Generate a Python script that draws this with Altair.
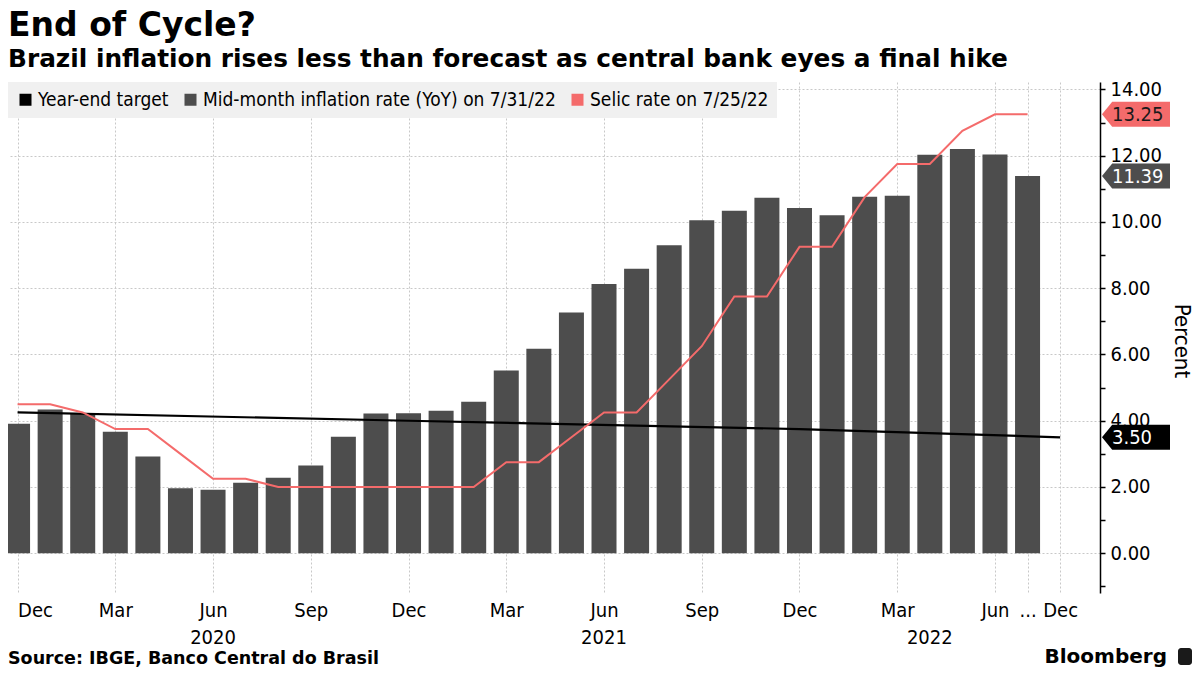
import altair as alt
import pandas as pd

# ---------------- data ----------------
months = ["Dec 2019",
          "Jan 2020", "Feb 2020", "Mar 2020", "Apr 2020", "May 2020", "Jun 2020",
          "Jul 2020", "Aug 2020", "Sep 2020", "Oct 2020", "Nov 2020", "Dec 2020",
          "Jan 2021", "Feb 2021", "Mar 2021", "Apr 2021", "May 2021", "Jun 2021",
          "Jul 2021", "Aug 2021", "Sep 2021", "Oct 2021", "Nov 2021", "Dec 2021",
          "Jan 2022", "Feb 2022", "Mar 2022", "Apr 2022", "May 2022", "Jun 2022",
          "Jul 2022"]
inflation = [3.91,
             4.34, 4.21, 3.67, 2.92, 1.96, 1.92,
             2.13, 2.28, 2.65, 3.52, 4.22, 4.23,
             4.30, 4.57, 5.52, 6.17, 7.27, 8.13,
             8.59, 9.30, 10.05, 10.34, 10.73, 10.42,
             10.20, 10.76, 10.79, 12.03, 12.20, 12.04,
             11.39]
selic = [4.50,
         4.50, 4.25, 3.75, 3.75, 3.00, 2.25,
         2.25, 2.00, 2.00, 2.00, 2.00, 2.00,
         2.00, 2.00, 2.75, 2.75, 3.50, 4.25,
         4.25, 5.25, 6.25, 7.75, 7.75, 9.25,
         9.25, 10.75, 11.75, 11.75, 12.75, 13.25,
         13.25]
# year-end targets (Dec 2022 sits after the axis break, one slot after Jul 2022)
target_pos = [0, 12, 24, 32]
target_vals = [4.25, 4.00, 3.75, 3.50]

tick_pos = [0, 3, 6, 9, 12, 15, 18, 21, 24, 27, 30, 31, 32]
tick_labels = ["Dec", "Mar", "Jun", "Sep", "Dec", "Mar", "Jun", "Sep",
               "Dec", "Mar", "Jun", "...", "Dec"]
year_labels = ["2020", "2021", "2022"]
year_pos = [6, 18, 28]

series_names = ["Year-end target",
                "Mid-month inflation rate (YoY) on 7/31/22",
                "Selic rate on 7/25/22"]
series_colors = ["#000000", "#4d4d4d", "#f46b6b"]

TITLE = "End of Cycle?"
SUBTITLE = "Brazil inflation rises less than forecast as central bank eyes a final hike"
SOURCE = "Source: IBGE, Banco Central do Brasil"

# ---------------- layout ----------------
W, H = 1092, 511
F = "DejaVu Sans Condensed, Noto Sans, sans-serif"
FB = "DejaVu Sans, sans-serif"
RED, GRAY, BLACK = series_colors[2], series_colors[1], series_colors[0]
GRID = "#c8c8c8"

xs = alt.Scale(domain=[-0.14, 33.07], nice=False, zero=False)
ys = alt.Scale(domain=[-1.2, 14.226], nice=False, zero=False)

df_bar = pd.DataFrame({"i": list(range(len(months))), "month": months,
                       "v": inflation, "series": series_names[1]})
df_selic = pd.DataFrame({"i": list(range(len(months))), "v": selic})
df_target = pd.DataFrame({"i": target_pos, "v": target_vals})
df_years = pd.DataFrame({"i": year_pos, "label": year_labels})
df_tags = pd.DataFrame({"v": [selic[-1], inflation[-1], target_vals[-1]],
                        "fill": [RED, GRAY, BLACK],
                        "tc": ["#1a1a1a", "#ffffff", "#ffffff"]})

label_expr = (str(tick_labels) + "[indexof(" + str(tick_pos) + ", datum.value)]")

x_axis = alt.Axis(values=tick_pos, labelExpr=label_expr, orient="bottom",
                  domain=False, ticks=False, tickSize=0, grid=True,
                  gridDash=[2, 2], gridColor=GRID, gridWidth=1,
                  labelFont=F, labelFontSize=20, labelColor="#000",
                  labelPadding=7, labelFlush=10, labelOverlap=False,
                  title=None)

y_axis = alt.Axis(orient="right", values=list(range(-1, 15)),
                  labelExpr="datum.value % 2 === 0 ? format(datum.value, '.2f') : ''",
                  domain=True, domainColor="#000", domainWidth=1.5,
                  ticks=True, tickSize=5, tickColor="#000", tickWidth=1.5,
                  grid=True, gridDash=[2, 2], gridColor=GRID, gridWidth=1,
                  gridOpacity={"condition": {"test": "datum.value % 2 === 0", "value": 1},
                               "value": 0},
                  labelFont=F, labelFontSize=20, labelColor="#000", labelPadding=5,
                  labelFlush=False, labelOverlap=False,
                  title="Percent", titleFont=F, titleFontSize=22,
                  titleFontWeight="normal", titleColor="#000", titleAngle=90,
                  titleX=74, titleY=H / 2 + 3, titleAlign="center",
                  titleBaseline="alphabetic")

legend = alt.Legend(title=None, orient="none", legendX=0, legendY=0,
                    direction="horizontal", symbolType="square", symbolSize=144,
                    symbolStrokeWidth=0, symbolOpacity=1,
                    labelFont=F, labelFontSize=19, labelColor="#000",
                    labelOffset=3, columnPadding=12, padding=8,
                    fillColor="#f0f0f0", labelLimit=600)

X = alt.X("i:Q", scale=xs, axis=x_axis)
Y = alt.Y("v:Q", scale=ys, axis=y_axis)

bars = alt.Chart(df_bar).mark_bar(size=25).encode(
    x=X, y=Y,
    color=alt.Color("series:N",
                    scale=alt.Scale(domain=series_names, range=series_colors),
                    legend=legend),
)

target_line = alt.Chart(df_target).mark_line(color=BLACK, strokeWidth=2.2).encode(
    x=X, y=Y)

selic_line = alt.Chart(df_selic).mark_line(color=RED, strokeWidth=2).encode(
    x=X, y=Y)

TAG_PATH = "M-1,0L-0.7,-0.368L1,-0.368L1,0.368L-0.7,0.368Z"
tags = alt.Chart(df_tags).mark_point(shape=TAG_PATH, filled=True, size=4624,
                                     opacity=1, strokeWidth=0).encode(
    x=alt.value(W + 36), y=Y,
    fill=alt.Fill("fill:N", scale=None),
)
tag_text = alt.Chart(df_tags).mark_text(align="left", baseline="middle", font=F,
                                        fontSize=20, dy=1).encode(
    x=alt.value(W + 12), y=Y,
    text=alt.Text("v:Q", format=".2f"),
    fill=alt.Fill("tc:N", scale=None),
)

years = alt.Chart(df_years).mark_text(align="center", baseline="alphabetic",
                                      font=F, fontSize=20, color="#000").encode(
    x=X, y=alt.value(H + 51), text="label:N",
)


def txt(s, y, size, x=0, align="left", font=FB, weight="bold"):
    return alt.Chart(pd.DataFrame({"t": [s]})).mark_text(
        align=align, baseline="alphabetic", font=font, fontSize=size,
        fontWeight=weight, color="#000").encode(
        x=alt.value(x), y=alt.value(y), text="t:N")


title = txt(TITLE, -46, 33)
subtitle = txt(SUBTITLE, -15.3, 24.8)
source = txt(SOURCE, H + 71, 17.5)
bbg = txt("Bloomberg", H + 70, 20, x=W + 67, align="right", font=FB)
icon = alt.Chart(pd.DataFrame({"t": [1]})).mark_rect(cornerRadius=3, color="#1a1a1a").encode(
    x=alt.value(W + 78), x2=alt.value(W + 92), y=alt.value(H + 55), y2=alt.value(H + 72))

chart = alt.layer(bars, target_line, selic_line, tags, tag_text, years,
                  title, subtitle, source, bbg, icon).properties(
    width=W, height=H,
    autosize=alt.AutoSizeParams(type="none"),
    padding={"left": 0, "top": 74, "right": 92, "bottom": 74},
).configure_view(stroke=None)

chart.save("out.html", embed_options={"renderer": "svg", "actions": False})
